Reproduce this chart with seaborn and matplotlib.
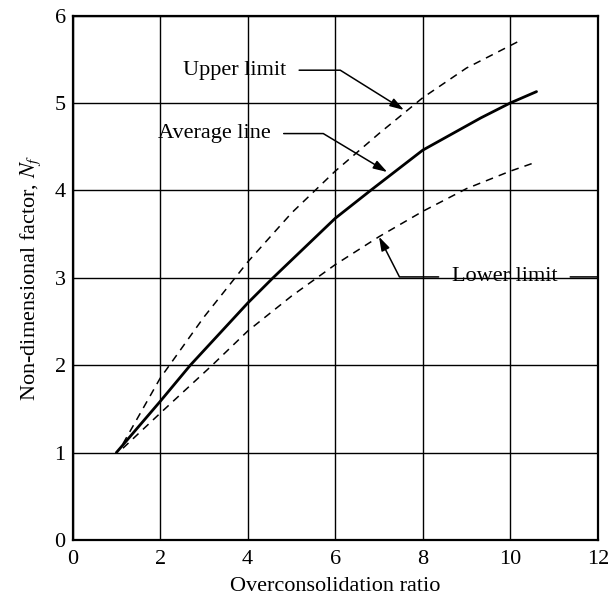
"""Overconsolidation ratio vs non-dimensional factor N_f (average / upper / lower limits)."""
import matplotlib
matplotlib.use("Agg")
import matplotlib.pyplot as plt
import pandas as pd
import seaborn as sns

# 그림에서 읽어낸 곡선 값
avg_x = [1.0, 2.0, 2.69, 4.0, 4.58, 6.0, 6.81, 8.0, 9.33, 10.0, 10.6]
avg_y = [1.0, 1.585, 2.0, 2.71, 3.0, 3.68, 4.0, 4.46, 4.83, 5.0, 5.13]

upper_x = [1.15, 2.0, 3.0, 4.0, 5.0, 6.0, 7.0, 8.0, 9.0, 10.17]
upper_y = [1.1, 1.85, 2.55, 3.18, 3.74, 4.22, 4.65, 5.06, 5.40, 5.70]

lower_x = [1.15, 2.0, 3.19, 4.0, 5.0, 6.0, 7.0, 8.0, 9.0, 10.0, 10.57]
lower_y = [1.05, 1.45, 2.0, 2.39, 2.79, 3.15, 3.47, 3.76, 4.02, 4.22, 4.32]

curves = pd.concat([
    pd.DataFrame({"ocr": avg_x, "nf": avg_y, "curve": "Average line"}),
    pd.DataFrame({"ocr": upper_x, "nf": upper_y, "curve": "Upper limit"}),
    pd.DataFrame({"ocr": lower_x, "nf": lower_y, "curve": "Lower limit"}),
], ignore_index=True)

sns.set_theme(style="white")
plt.rcParams["font.family"] = ["Liberation Serif", "DejaVu Serif"]
plt.rcParams["mathtext.fontset"] = "stix"
plt.rcParams["text.color"] = "black"

FS = 16

fig = plt.figure(figsize=(6.10, 5.99), dpi=100)
ax = fig.add_axes([0.119, 0.0985, 0.861, 0.8755])

sns.lineplot(data=curves[curves["curve"] == "Average line"], x="ocr", y="nf",
             color="black", lw=2.0, ax=ax, estimator=None, sort=False)
for name in ["Upper limit", "Lower limit"]:
    sns.lineplot(data=curves[curves["curve"] == name], x="ocr", y="nf",
                 color="black", lw=1.1, ax=ax, estimator=None, sort=False,
                 linestyle=(0, (5, 4)))

ax.set_xlim(0, 12)
ax.set_ylim(0, 6)
ax.set_xticks(range(0, 13, 2))
ax.set_yticks(range(0, 7))
ax.grid(True, color="black", lw=1.0)
for s in ax.spines.values():
    s.set_color("black")
    s.set_linewidth(1.6)
ax.tick_params(axis="x", labelsize=FS, length=0, pad=7, colors="black")
ax.tick_params(axis="y", labelsize=FS, length=0, pad=5, colors="black")
ax.set_xlabel("Overconsolidation ratio", fontsize=FS, color="black", labelpad=6)
ax.set_ylabel("Non-dimensional factor, $N_f$", fontsize=FS, color="black",
              labelpad=8)

arrow = dict(arrowstyle="-|>,head_length=0.7,head_width=0.22", color="black",
             lw=1.1, shrinkA=7, shrinkB=0, mutation_scale=12)

ax.annotate("Upper limit", xy=(7.57, 4.92), xytext=(2.52, 5.375), fontsize=FS,
            ha="left", va="center",
            arrowprops=dict(arrow, relpos=(1, 0.5),
                            connectionstyle="angle,angleA=0,angleB=148,rad=0"))
ax.annotate("Average line", xy=(7.19, 4.21), xytext=(1.95, 4.65), fontsize=FS,
            ha="left", va="center",
            arrowprops=dict(arrow, relpos=(1, 0.5),
                            connectionstyle="angle,angleA=0,angleB=149,rad=0"))
ax.annotate("Lower limit", xy=(7.0, 3.47), xytext=(8.66, 3.01), fontsize=FS,
            ha="left", va="center",
            arrowprops=dict(arrow, relpos=(0, 0.5),
                            connectionstyle="angle,angleA=180,angleB=117,rad=0"))
ax.annotate("", xy=(1.0, 3.01), xycoords=("axes fraction", "data"),
            xytext=(11.37, 3.01), textcoords="data",
            arrowprops=dict(arrowstyle="-", color="black", lw=1.1,
                            shrinkA=0, shrinkB=0))

ax.set_facecolor("white")
fig.savefig("out.png", dpi=100, facecolor="white")
